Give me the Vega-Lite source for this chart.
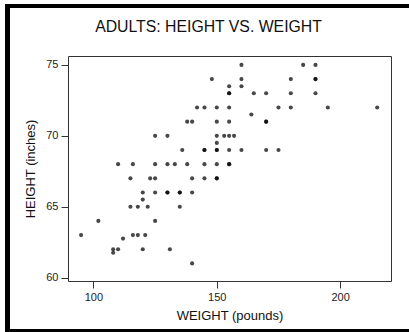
{
  "$schema": "https://vega.github.io/schema/vega-lite/v6.json",
  "width": 323,
  "height": 225,
  "autosize": {"type": "none"},
  "padding": {"left": 68, "top": 56, "right": 18, "bottom": 51},
  "background": "white",
  "title": {
    "text": "ADULTS: HEIGHT VS. WEIGHT",
    "font": "Liberation Sans",
    "fontSize": 15.8,
    "fontWeight": "normal",
    "color": "#111",
    "offset": -34,
    "anchor": "middle",
    "dx": -21
  },
  "config": {
    "view": {"stroke": "#333", "strokeWidth": 1},
    "axis": {
      "grid": false,
      "domain": false,
      "tickColor": "#333",
      "tickSize": 7,
      "labelFont": "Liberation Sans",
      "labelFontSize": 11,
      "labelColor": "#222",
      "titleFont": "Liberation Sans",
      "titleFontSize": 13,
      "titleFontWeight": "normal",
      "titleColor": "#111"
    }
  },
  "data": {
    "values": [
      {"weight": 160, "height": 75}, {"weight": 185, "height": 75}, {"weight": 190, "height": 75},
      {"weight": 148, "height": 74}, {"weight": 160, "height": 74}, {"weight": 180, "height": 74}, {"weight": 190, "height": 74}, {"weight": 190, "height": 74},
      {"weight": 155, "height": 73.5}, {"weight": 160, "height": 73.5},
      {"weight": 155, "height": 73}, {"weight": 155, "height": 73}, {"weight": 165, "height": 73}, {"weight": 170, "height": 73}, {"weight": 180, "height": 73}, {"weight": 190, "height": 73},
      {"weight": 142, "height": 72}, {"weight": 145, "height": 72}, {"weight": 150, "height": 72}, {"weight": 155, "height": 72}, {"weight": 175, "height": 72}, {"weight": 180, "height": 72}, {"weight": 195, "height": 72}, {"weight": 215, "height": 72},
      {"weight": 164, "height": 71.5},
      {"weight": 138, "height": 71}, {"weight": 140, "height": 71}, {"weight": 150, "height": 71}, {"weight": 155, "height": 71}, {"weight": 170, "height": 71}, {"weight": 170, "height": 71},
      {"weight": 125, "height": 70}, {"weight": 130, "height": 70}, {"weight": 150, "height": 70}, {"weight": 153, "height": 70}, {"weight": 155, "height": 70}, {"weight": 157, "height": 70},
      {"weight": 150, "height": 69.5},
      {"weight": 136, "height": 69}, {"weight": 145, "height": 69}, {"weight": 145, "height": 69}, {"weight": 150, "height": 69}, {"weight": 150, "height": 69}, {"weight": 155, "height": 69}, {"weight": 160, "height": 69}, {"weight": 170, "height": 69}, {"weight": 175, "height": 69},
      {"weight": 110, "height": 68}, {"weight": 116, "height": 68}, {"weight": 125, "height": 68}, {"weight": 130, "height": 68}, {"weight": 133, "height": 68}, {"weight": 138, "height": 68}, {"weight": 145, "height": 68}, {"weight": 150, "height": 68}, {"weight": 155, "height": 68}, {"weight": 155, "height": 68},
      {"weight": 115, "height": 67}, {"weight": 123, "height": 67}, {"weight": 125, "height": 67}, {"weight": 140, "height": 67}, {"weight": 145, "height": 67}, {"weight": 150, "height": 67}, {"weight": 150, "height": 67},
      {"weight": 120, "height": 66}, {"weight": 125, "height": 66}, {"weight": 130, "height": 66}, {"weight": 130, "height": 66}, {"weight": 135, "height": 66}, {"weight": 135, "height": 66}, {"weight": 140, "height": 66},
      {"weight": 120, "height": 65.5},
      {"weight": 115, "height": 65}, {"weight": 118, "height": 65}, {"weight": 122, "height": 65}, {"weight": 135, "height": 65},
      {"weight": 102, "height": 64}, {"weight": 125, "height": 64},
      {"weight": 95, "height": 63}, {"weight": 116, "height": 63}, {"weight": 118, "height": 63}, {"weight": 121, "height": 63},
      {"weight": 112, "height": 62.75},
      {"weight": 108, "height": 62}, {"weight": 110, "height": 62}, {"weight": 120, "height": 62}, {"weight": 131, "height": 62},
      {"weight": 108, "height": 61.75},
      {"weight": 140, "height": 61}
    ]
  },
  "layer": [
    {
      "mark": {"type": "point", "filled": true, "shape": "circle", "size": 17, "color": "black", "opacity": 0.72},
      "encoding": {
        "x": {
          "field": "weight", "type": "quantitative",
          "scale": {"domain": [89.7, 220.6], "nice": false, "zero": false},
          "axis": {"values": [100, 150, 200], "title": "WEIGHT (pounds)", "labelPadding": 3, "titlePadding": 7}
        },
        "y": {
          "field": "height", "type": "quantitative",
          "scale": {"domain": [59.76, 75.63], "nice": false, "zero": false},
          "axis": {"values": [60, 65, 70, 75], "title": "HEIGHT (inches)", "labelPadding": 3, "titlePadding": 8}
        }
      }
    },
    {
      "mark": {"type": "rule", "color": "black", "strokeWidth": 4, "clip": false},
      "encoding": {
        "x": {"datum": 65, "type": "quantitative"},
        "y": {"datum": 79.3, "type": "quantitative"},
        "y2": {"datum": 56.1}
      }
    },
    {
      "mark": {"type": "rule", "color": "black", "strokeWidth": 4, "clip": false},
      "encoding": {
        "x": {"datum": 64.2, "type": "quantitative"},
        "x2": {"datum": 260},
        "y": {"datum": 79.16, "type": "quantitative"}
      }
    },
    {
      "mark": {"type": "rule", "color": "black", "strokeWidth": 4, "clip": false},
      "encoding": {
        "x": {"datum": 64.2, "type": "quantitative"},
        "x2": {"datum": 260},
        "y": {"datum": 56.23, "type": "quantitative"}
      }
    }
  ]
}
